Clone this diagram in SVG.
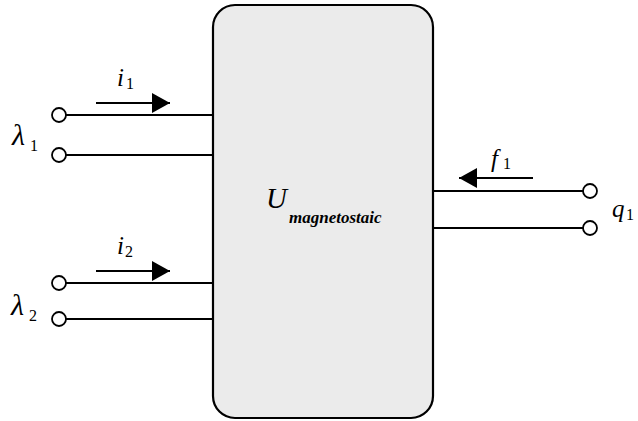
<svg xmlns="http://www.w3.org/2000/svg" width="638" height="421" viewBox="0 0 638 421">
<style>
.w{stroke:#000;stroke-width:2;fill:none}
.t{stroke:#000;stroke-width:1.8;fill:#fff}
.a{stroke:#000;stroke-width:2;fill:none}
text{font-family:"Liberation Serif","Times New Roman","DejaVu Serif",serif;fill:#000}
.lbl{font-style:italic}
</style>
<defs>
<marker id="ah" viewBox="0 0 18 20" refX="18" refY="10" markerWidth="18" markerHeight="20" markerUnits="userSpaceOnUse" orient="auto">
<path d="M0,0 L18,10 L0,20 Z" fill="#000"/>
</marker>
</defs>
<rect width="638" height="421" fill="#fff"/>
<g id="box">
<rect x="213" y="5" width="220" height="413" rx="22" ry="22" fill="#ebebeb" stroke="#000" stroke-width="2.2"/>
<text class="lbl" x="266" y="208" font-size="29">U</text>
<text class="lbl" x="289" y="223" font-size="17" font-weight="bold">magnetostaic</text>
</g>
<g id="connectors">
<line class="w" x1="66" y1="115" x2="213" y2="115"/>
<line class="w" x1="66" y1="155" x2="213" y2="155"/>
<line class="w" x1="66" y1="283" x2="213" y2="283"/>
<line class="w" x1="66" y1="319" x2="213" y2="319"/>
<line class="w" x1="433" y1="191" x2="583" y2="191"/>
<line class="w" x1="433" y1="228" x2="583" y2="228"/>
<line class="a" x1="96" y1="103" x2="170" y2="103" marker-end="url(#ah)"/>
<line class="a" x1="96" y1="271" x2="170" y2="271" marker-end="url(#ah)"/>
<line class="a" x1="533" y1="178" x2="459" y2="178" marker-end="url(#ah)"/>
</g>
<g id="port-lambda1">
<circle class="t" cx="59" cy="115" r="7"/>
<circle class="t" cx="59" cy="155" r="7"/>
<text class="lbl" x="12" y="145" font-size="30">λ</text>
<text x="30" y="151" font-size="16">1</text>
<text class="lbl" x="117" y="86" font-size="25">i</text>
<text x="126" y="89" font-size="16">1</text>
</g>
<g id="port-lambda2">
<circle class="t" cx="59" cy="283" r="7"/>
<circle class="t" cx="59" cy="319" r="7"/>
<text class="lbl" x="11" y="315" font-size="30">λ</text>
<text x="29" y="321" font-size="16">2</text>
<text class="lbl" x="117" y="254" font-size="25">i</text>
<text x="125" y="257" font-size="16">2</text>
</g>
<g id="port-q1">
<circle class="t" cx="590" cy="191" r="7"/>
<circle class="t" cx="590" cy="228" r="7"/>
<text class="lbl" x="491" y="167" font-size="25">f</text>
<text x="503" y="169" font-size="16">1</text>
<text class="lbl" x="612" y="217" font-size="25">q</text>
<text x="626" y="220" font-size="16">1</text>
</g>
</svg>
